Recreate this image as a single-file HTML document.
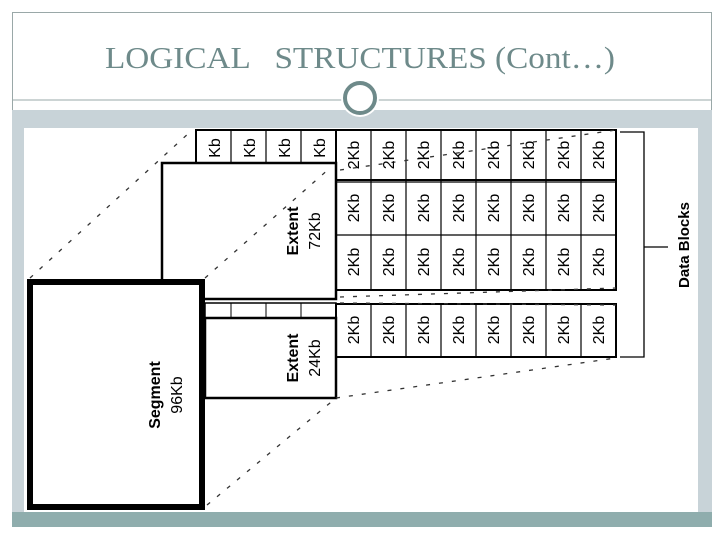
<!DOCTYPE html>
<html><head><meta charset="utf-8"><style>
html,body{margin:0;padding:0;background:#fff;}
svg{display:block}
</style></head><body>
<svg width="720" height="540" viewBox="0 0 720 540" xmlns="http://www.w3.org/2000/svg" font-family="Liberation Sans, sans-serif">
<rect x="0" y="0" width="720" height="540" fill="#fff"/>
<rect x="12.5" y="12.5" width="699" height="514" fill="none" stroke="#9aa8a8" stroke-width="1"/>
<text x="105" y="68" font-family="Liberation Serif, serif" font-size="31" fill="#6e8a8a" textLength="510" lengthAdjust="spacingAndGlyphs" xml:space="preserve">LOGICAL   STRUCTURES (Cont…)</text>
<rect x="12" y="110" width="700" height="402" fill="#c8d3d8"/>
<line x1="12" y1="100" x2="712" y2="100" stroke="#9aa8a8" stroke-width="1"/>
<circle cx="360" cy="98" r="19" fill="#fff"/>
<circle cx="360" cy="98" r="15" fill="#fff" stroke="#6e8a8a" stroke-width="4"/>
<rect x="24" y="128" width="674" height="384" fill="#fff"/>
<rect x="12" y="512" width="700" height="15" fill="#8fadad"/>

<g stroke="#000" fill="none">
<rect x="196" y="130" width="420" height="50" stroke-width="2"/>
<g stroke-width="1.2">
<line x1="231" y1="130" x2="231" y2="180"/><line x1="266" y1="130" x2="266" y2="180"/><line x1="301" y1="130" x2="301" y2="180"/>
</g>
<rect x="336" y="130" width="280" height="160" stroke-width="2"/>
<g stroke-width="1.2">
<line x1="371" y1="130" x2="371" y2="290"/><line x1="406" y1="130" x2="406" y2="290"/><line x1="441" y1="130" x2="441" y2="290"/>
<line x1="476" y1="130" x2="476" y2="290"/><line x1="511" y1="130" x2="511" y2="290"/><line x1="546" y1="130" x2="546" y2="290"/>
<line x1="581" y1="130" x2="581" y2="290"/>
<line x1="336" y1="182" x2="616" y2="182"/><line x1="336" y1="235" x2="616" y2="235"/>
</g>
<rect x="162" y="163" width="174" height="136" fill="#fff" stroke-width="2.5"/>
<rect x="205" y="303" width="131" height="15" stroke-width="1.5"/>
<line x1="231" y1="303" x2="231" y2="318"/><line x1="266" y1="303" x2="266" y2="318"/><line x1="301" y1="303" x2="301" y2="318"/>
<rect x="336" y="304" width="280" height="53" stroke-width="2"/>
<g stroke-width="1.2">
<line x1="371" y1="304" x2="371" y2="357"/><line x1="406" y1="304" x2="406" y2="357"/><line x1="441" y1="304" x2="441" y2="357"/>
<line x1="476" y1="304" x2="476" y2="357"/><line x1="511" y1="304" x2="511" y2="357"/><line x1="546" y1="304" x2="546" y2="357"/>
<line x1="581" y1="304" x2="581" y2="357"/>
</g>
<rect x="205" y="318" width="131" height="80" fill="#fff" stroke-width="2.5"/>
<rect x="30" y="282" width="172" height="225" fill="#fff" stroke-width="6"/>
<polyline points="620,132 644,132 644,357 620,357" stroke-width="1.3"/>
<line x1="644" y1="247" x2="668" y2="247" stroke-width="1.3"/>
<g stroke-dasharray="4,9" stroke-width="1.3" stroke="#333">
<line x1="30" y1="278" x2="190" y2="132"/>
<line x1="205" y1="278" x2="330" y2="168"/>
<line x1="340" y1="170" x2="616" y2="130"/>
<line x1="340" y1="297" x2="616" y2="288"/>
<line x1="340" y1="303" x2="616" y2="305"/>
<line x1="207" y1="505" x2="336" y2="398"/>
<line x1="336" y1="398" x2="616" y2="358"/>
</g>
</g>

<g font-size="16" fill="#000" text-anchor="middle">
<g>
<text transform="translate(220,148) rotate(-90)">Kb</text>
<text transform="translate(255,148) rotate(-90)">Kb</text>
<text transform="translate(290,148) rotate(-90)">Kb</text>
<text transform="translate(325,148) rotate(-90)">Kb</text>
</g>
<g id="r1">
<text transform="translate(359,155) rotate(-90)">2Kb</text>
<text transform="translate(394,155) rotate(-90)">2Kb</text>
<text transform="translate(429,155) rotate(-90)">2Kb</text>
<text transform="translate(464,155) rotate(-90)">2Kb</text>
<text transform="translate(499,155) rotate(-90)">2Kb</text>
<text transform="translate(534,155) rotate(-90)">2Kb</text>
<text transform="translate(569,155) rotate(-90)">2Kb</text>
<text transform="translate(604,155) rotate(-90)">2Kb</text>
</g>
<use href="#r1" y="53"/>
<use href="#r1" y="107"/>
<use href="#r1" y="175"/>
<text transform="translate(298,231) rotate(-90)" font-weight="bold" font-size="16">Extent</text>
<text transform="translate(320,231) rotate(-90)" font-size="16">72Kb</text>
<text transform="translate(298,358) rotate(-90)" font-weight="bold" font-size="16">Extent</text>
<text transform="translate(320,358) rotate(-90)" font-size="16">24Kb</text>
<text transform="translate(160,395) rotate(-90)" font-weight="bold" font-size="16">Segment</text>
<text transform="translate(182,395) rotate(-90)" font-size="16">96Kb</text>
<text transform="translate(689,245) rotate(-90)" font-weight="bold" font-size="15">Data Blocks</text>
</g>
</svg>
</body></html>
